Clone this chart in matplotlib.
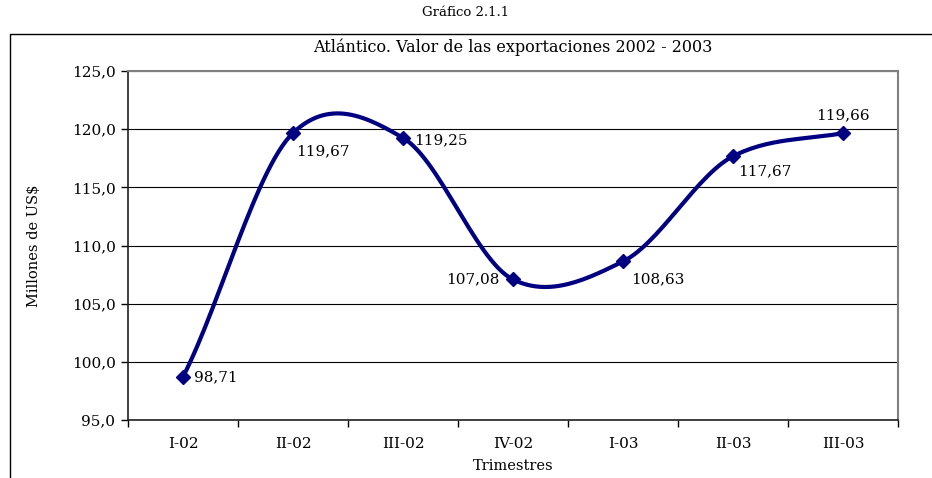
import numpy as np
import matplotlib.pyplot as plt
from matplotlib.lines import Line2D

plt.switch_backend('Agg')
plt.rcParams['font.family'] = ['DejaVu Serif']

categories = ['I-02', 'II-02', 'III-02', 'IV-02', 'I-03', 'II-03', 'III-03']
values = [98.71, 119.67, 119.25, 107.08, 108.63, 117.67, 119.66]
labels = ['98,71', '119,67', '119,25', '107,08', '108,63', '117,67', '119,66']
# label offsets in points (dx, dy, ha, va)
label_pos = [(8, 0, 'left', 'center'), (2, -8, 'left', 'top'), (8, -2, 'left', 'center'),
             (-10, 0, 'right', 'center'), (6, -8, 'left', 'top'), (4, -6, 'left', 'top'),
             (0, 8, 'center', 'bottom')]

NAVY = '#000080'
FS = 11


def catmull_rom(y, steps=30, k=0.88):
    # smooth curve through the data points (like Excel's smoothed line)
    p = np.concatenate([[2 * y[0] - y[1]], y, [2 * y[-1] - y[-2]]])
    xs, ys = [], []
    for i in range(1, len(p) - 2):
        t = np.linspace(0, 1, steps, endpoint=False)
        m1 = k * (p[i + 1] - p[i - 1]) / 2
        m2 = k * (p[i + 2] - p[i]) / 2
        h00 = 2 * t**3 - 3 * t**2 + 1
        h10 = t**3 - 2 * t**2 + t
        h01 = -2 * t**3 + 3 * t**2
        h11 = t**3 - t**2
        ys.append(h00 * p[i] + h10 * m1 + h01 * p[i + 1] + h11 * m2)
        xs.append(i - 1 + t)
    xs.append([len(y) - 1])
    ys.append([y[-1]])
    return np.concatenate(xs), np.concatenate(ys)


fig = plt.figure(figsize=(9.32, 4.78), dpi=100)
W, H = 932, 478
ax = fig.add_axes([128 / W, 1 - 420 / H, (898 - 128) / W, (420 - 71) / H])

x = np.arange(len(categories))
sx, sy = catmull_rom(np.array(values))
ax.plot(sx, sy, color=NAVY, lw=3, solid_capstyle='round', zorder=3)
ax.plot(x, values, ls='none', marker='D', ms=7, color=NAVY, zorder=4)

for xi, v, lab, (dx, dy, ha, va) in zip(x, values, labels, label_pos):
    ax.annotate(lab, (xi, v), xytext=(dx, dy), textcoords='offset points',
                ha=ha, va=va, fontsize=FS)

ax.set_xlim(-0.5, len(categories) - 0.5)
ax.set_ylim(95, 125)
ax.set_yticks(np.arange(95, 126, 5))
ax.set_yticklabels([f'{t:.1f}'.replace('.', ',') for t in np.arange(95, 126, 5)])
ax.set_xticks(x)
ax.set_xticklabels(categories)
ax.set_xticks(np.arange(-0.5, len(categories)), minor=True)
ax.tick_params(axis='x', which='major', length=0, pad=12, labelsize=FS)
ax.tick_params(axis='x', which='minor', length=5, direction='out', width=1)
ax.tick_params(axis='y', length=5, direction='out', width=1, labelsize=FS, pad=4)
ax.grid(axis='y', color='black', lw=0.8)
for s in ['top', 'right']:
    ax.spines[s].set_color('#808080')
    ax.spines[s].set_linewidth(1.5)
for s in ['left', 'bottom']:
    ax.spines[s].set_color('#202020')
    ax.spines[s].set_linewidth(1.2)

ax.set_xlabel('Trimestres', fontsize=FS - 0.5, labelpad=6)
ax.set_ylabel('Millones de US\\$', fontsize=FS - 0.5, labelpad=22)

fig.text(466 / W, 1 - 12 / H, 'Gráfico 2.1.1', ha='center', va='center', fontsize=FS - 1.5)
fig.text(513 / W, 1 - 47 / H, 'Atlántico. Valor de las exportaciones 2002 - 2003',
         ha='center', va='center', fontsize=FS + 0.5)

# outer frame (left and top edges visible)
fig.add_artist(Line2D([10 / W, 10 / W, 1], [0, 1 - 34 / H, 1 - 34 / H],
                      transform=fig.transFigure, color='black', lw=1))

fig.savefig('out.png', dpi=100)
plt.close(fig)
